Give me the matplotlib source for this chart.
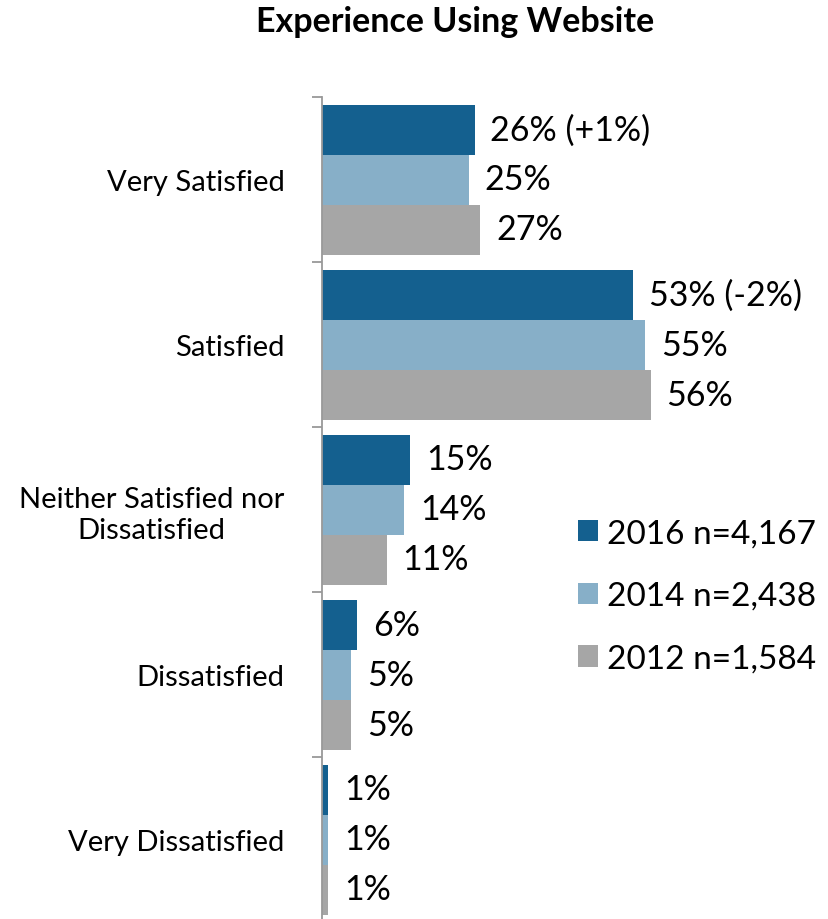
import matplotlib.pyplot as plt
import numpy as np

plt.rcParams['font.family'] = ['Lato', 'DejaVu Sans']

categories = ['Very Satisfied', 'Satisfied', 'Neither Satisfied nor\nDissatisfied',
              'Dissatisfied', 'Very Dissatisfied']
series_names = ['2016 n=4,167', '2014 n=2,438', '2012 n=1,584']
vals_2016 = [26, 53, 15, 6, 1]
vals_2014 = [25, 55, 14, 5, 1]
vals_2012 = [27, 56, 11, 5, 1]
change_2016 = ['(+1%)', '(-2%)', '', '', '']
colors = ['#14608f', '#87afc8', '#a6a6a6']

W, H = 829, 920
fig = plt.figure(figsize=(W / 100, H / 100), dpi=100)
# axes: left at x=322px, top at 98px, one category = 165px
ax = fig.add_axes([322 / W, (H - 98 - 5 * 165) / H, 505 / W, 5 * 165 / H])

n = len(categories)
bar_h = 50 / 165
y = np.arange(n)
all_vals = [vals_2016, vals_2014, vals_2012]
for i, (vals, col, name) in enumerate(zip(all_vals, colors, series_names)):
    pos = y + (i - 1) * bar_h
    ax.barh(pos, vals, height=bar_h, color=col, label=name, edgecolor='none')
    for p, v, k in zip(pos, vals, range(n)):
        txt = f'{v}%'
        if i == 0 and change_2016[k]:
            txt += ' ' + change_2016[k]
        ax.text(v + 2.7, p, txt, va='center', ha='left', fontsize=24.5, color='black')

ax.set_ylim(n - 0.5, -0.5)
ax.set_xlim(0, 505 / 5.87)

ax.set_yticks(y)
ax.set_yticklabels(categories, fontsize=21, multialignment='center', linespacing=1.25)
ax.tick_params(axis='y', length=0, pad=27)
ax.set_yticks(np.arange(-0.5, n, 1), minor=True)
ax.tick_params(axis='y', which='minor', length=7, color='#999999', width=1.3)
ax.set_xticks([])

for s in ['top', 'right', 'bottom']:
    ax.spines[s].set_visible(False)
ax.spines['left'].set_color('#999999')
ax.spines['left'].set_linewidth(1.3)

leg = ax.legend(loc='upper left', bbox_to_anchor=(243 / 505, 1 - 408 / 825),
                frameon=False, fontsize=24, handlelength=0.6, handleheight=0.6,
                handletextpad=0.25, labelspacing=0.98, borderaxespad=0)

fig.text(455 / W, 1 - 22 / H, 'Experience Using Website', ha='center', va='center',
         fontsize=24.5, fontweight='bold')

fig.savefig('out.png', dpi=100)
